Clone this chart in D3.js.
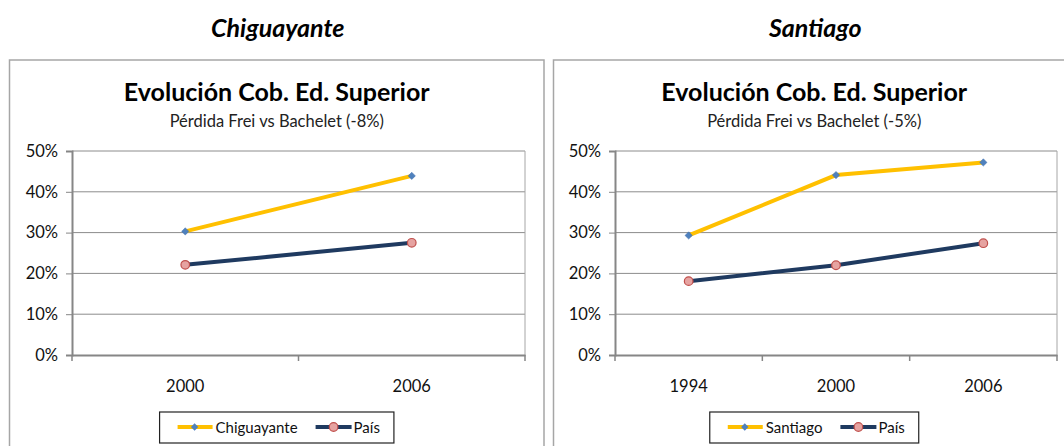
<!DOCTYPE html>
<html>
<head>
<meta charset="utf-8">
<script src="https://cdn.jsdelivr.net/npm/d3@7"></script>
<style>
  body { margin: 0; background: #fff; }
  svg { display: block; font-family: Lato, "Open Sans", sans-serif; }
</style>
</head>
<body>
<svg id="chart" width="1064" height="446"></svg>
<script>
// datos
var chigYears = ['2000', '2006'];
var chigLocal = [0.303, 0.439];
var chigPais = [0.221, 0.275];

var stgoYears = ['1994', '2000', '2006'];
var stgoLocal = [0.293, 0.441, 0.472];
var stgoPais = [0.181, 0.220, 0.274];

var yTicks = [0, 0.1, 0.2, 0.3, 0.4, 0.5];

var svg = d3.select('#chart');

function drawPanel(o) {
    var g = svg.append('g');
    var cx = (o.box[0] + o.box[1]) / 2;

    // encabezado sobre el grafico
    g.append('text')
        .attr('x', cx + 1).attr('y', 37)
        .attr('text-anchor', 'middle')
        .attr('font-size', 25).attr('font-weight', 'bold').attr('font-style', 'italic')
        .text(o.heading);

    // marco
    g.append('rect')
        .attr('x', o.box[0]).attr('y', 60)
        .attr('width', o.box[1] - o.box[0]).attr('height', 420)
        .attr('fill', '#fff').attr('stroke', '#a6a6a6').attr('stroke-width', 1.5);

    g.append('text')
        .attr('x', cx).attr('y', 101)
        .attr('text-anchor', 'middle')
        .attr('font-size', 25).attr('font-weight', 'bold')
        .text('Evolución Cob. Ed. Superior');
    g.append('text')
        .attr('x', cx).attr('y', 127)
        .attr('text-anchor', 'middle')
        .attr('font-size', 16.5).attr('fill', '#222')
        .text(o.subtitle);

    var scX = d3.scaleBand().domain(o.years).range([o.plot[0], o.plot[1]]);
    var scY = d3.scaleLinear().domain([0, 0.5]).range([355, 151]);
    var xc = d => scX(d) + scX.bandwidth() / 2;

    // rejilla
    g.selectAll('.grid').data(yTicks.slice(1)).enter().append('line')
        .attr('x1', o.plot[0]).attr('x2', o.plot[1])
        .attr('y1', d => scY(d)).attr('y2', d => scY(d))
        .attr('stroke', '#8c8c8c').attr('stroke-width', 1);
    g.append('line')
        .attr('x1', o.plot[1]).attr('x2', o.plot[1])
        .attr('y1', scY(0.5)).attr('y2', scY(0))
        .attr('stroke', '#a6a6a6').attr('stroke-width', 1);

    // eje y
    var ay = g.append('g').attr('transform', 'translate(' + o.plot[0] + ',0)')
        .call(d3.axisLeft(scY).tickValues(yTicks).tickFormat(d3.format('.0%'))
            .tickSize(6).tickPadding(8));
    ay.select('.domain').attr('stroke', '#868686').attr('stroke-width', 2);
    ay.selectAll('.tick line').attr('stroke', '#868686');
    ay.selectAll('text').attr('font-size', 16.5).attr('font-family', 'Lato').attr('fill', '#111');

    // eje x
    var ax = g.append('g').attr('transform', 'translate(0,' + scY(0) + ')')
        .call(d3.axisBottom(scX).tickSize(0).tickPadding(25));
    ax.select('.domain').attr('stroke', '#868686').attr('stroke-width', 2);
    ax.selectAll('text').attr('font-size', 16.5).attr('font-family', 'Lato').attr('fill', '#111');
    var bounds = o.years.map(d => scX(d)).concat([o.plot[1]]);
    ax.selectAll('.bound').data(bounds).enter().append('line')
        .attr('x1', d => d).attr('x2', d => d)
        .attr('y1', 0).attr('y2', 6)
        .attr('stroke', '#868686').attr('stroke-width', 1.5);

    var line = d3.line().x((d, i) => xc(o.years[i])).y(d => scY(d));

    g.append('path').datum(o.pais).attr('d', line)
        .attr('fill', 'none').attr('stroke', '#1f3a60').attr('stroke-width', 4);
    g.append('path').datum(o.local).attr('d', line)
        .attr('fill', 'none').attr('stroke', '#ffc000').attr('stroke-width', 4);

    g.selectAll('.dia').data(o.local).enter().append('path')
        .attr('d', d3.symbol(d3.symbolDiamond2, 34))
        .attr('transform', (d, i) => 'translate(' + xc(o.years[i]) + ',' + scY(d) + ')')
        .attr('fill', '#4f81bd').attr('stroke', '#3f6fae').attr('stroke-width', 0.5);
    g.selectAll('.dot').data(o.pais).enter().append('circle')
        .attr('cx', (d, i) => xc(o.years[i])).attr('cy', d => scY(d))
        .attr('r', 4.3)
        .attr('fill', '#e6a3a1').attr('stroke', '#c0504d').attr('stroke-width', 1.2);

    // leyenda
    var lg = g.append('g');
    var t1 = lg.append('text').attr('font-size', 15).attr('fill', '#111').text(o.heading);
    var t2 = lg.append('text').attr('font-size', 15).attr('fill', '#111').text('País');
    var w1 = t1.node().getComputedTextLength(), w2 = t2.node().getComputedTextLength();
    var lw = 18 + 35 + 3 + w1 + 18 + 36 + 2 + w2 + 14;
    var lx = cx - lw / 2, ly = 427;
    lg.insert('rect', 'text')
        .attr('x', lx).attr('y', 412).attr('width', lw).attr('height', 31)
        .attr('fill', '#fff').attr('stroke', '#222').attr('stroke-width', 1.2);
    var x0 = lx + 18;
    lg.append('line').attr('x1', x0).attr('x2', x0 + 35).attr('y1', ly).attr('y2', ly)
        .attr('stroke', '#ffc000').attr('stroke-width', 4);
    lg.append('path').attr('d', d3.symbol(d3.symbolDiamond2, 34))
        .attr('transform', 'translate(' + (x0 + 17) + ',' + ly + ')').attr('fill', '#4f81bd');
    t1.attr('x', x0 + 38).attr('y', ly + 5.5);
    var x1 = x0 + 38 + w1 + 18;
    lg.append('line').attr('x1', x1).attr('x2', x1 + 36).attr('y1', ly).attr('y2', ly)
        .attr('stroke', '#1f3a60').attr('stroke-width', 4);
    lg.append('circle').attr('cx', x1 + 18).attr('cy', ly).attr('r', 4.3)
        .attr('fill', '#e6a3a1').attr('stroke', '#c0504d').attr('stroke-width', 1.2);
    t2.attr('x', x1 + 38).attr('y', ly + 5.5);
}

drawPanel({
    heading: 'Chiguayante', subtitle: 'Pérdida Frei vs Bachelet (-8%)',
    years: chigYears, local: chigLocal, pais: chigPais,
    box: [9.5, 544], plot: [72, 525]
});
drawPanel({
    heading: 'Santiago', subtitle: 'Pérdida Frei vs Bachelet (-5%)',
    years: stgoYears, local: stgoLocal, pais: stgoPais,
    box: [553.5, 1075], plot: [615, 1057]
});
</script>
</body>
</html>
